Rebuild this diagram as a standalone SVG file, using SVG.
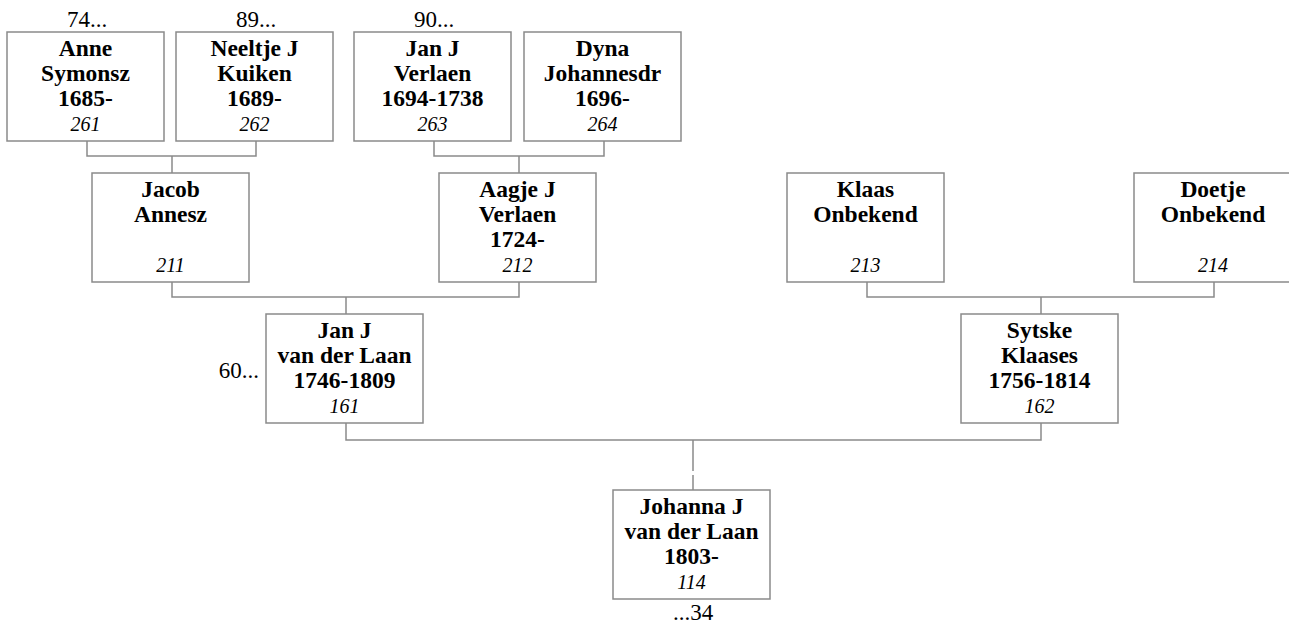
<svg xmlns="http://www.w3.org/2000/svg" width="1289" height="628" viewBox="0 0 1289 628">
<style>
.box{fill:#fff;stroke:#8a8a8a;stroke-width:1.5}
.ln{fill:none;stroke:#8a8a8a;stroke-width:1.5}
.nm{font-family:"Liberation Serif","Times New Roman",serif;font-weight:bold;font-size:23.5px;fill:#000;text-anchor:middle}
.id{font-family:"Liberation Serif","Times New Roman",serif;font-style:italic;font-size:20px;fill:#000;text-anchor:middle}
.rf{font-family:"Liberation Serif","Times New Roman",serif;font-size:23px;fill:#000}
</style>
<rect width="1289" height="628" fill="#fff"/>
<g id="connectors">
<path class="ln" d="M87,141V156H256V141M172,156V173"/>
<path class="ln" d="M434,141V156H604V141M519,156V173"/>
<path class="ln" d="M172,282V297H519V282M346,297V314"/>
<path class="ln" d="M867,282V297H1214V282M1041,297V314"/>
<path class="ln" d="M346,423V440H1041V423M693,440V471M693,475V490"/>
</g>
<g id="n261">
<rect class="box" x="7" y="32" width="157" height="109"/>
<text class="nm" x="85.5" y="56">Anne</text>
<text class="nm" x="85.5" y="81">Symonsz</text>
<text class="nm" x="85.5" y="106">1685-</text>
<text class="id" x="85.5" y="131">261</text>
<text class="rf" x="87" y="27" text-anchor="middle">74...</text>
</g>
<g id="n262">
<rect class="box" x="176" y="32" width="157" height="109"/>
<text class="nm" x="254.5" y="56">Neeltje J</text>
<text class="nm" x="254.5" y="81">Kuiken</text>
<text class="nm" x="254.5" y="106">1689-</text>
<text class="id" x="254.5" y="131">262</text>
<text class="rf" x="256" y="27" text-anchor="middle">89...</text>
</g>
<g id="n263">
<rect class="box" x="354" y="32" width="157" height="109"/>
<text class="nm" x="432.5" y="56">Jan J</text>
<text class="nm" x="432.5" y="81">Verlaen</text>
<text class="nm" x="432.5" y="106">1694-1738</text>
<text class="id" x="432.5" y="131">263</text>
<text class="rf" x="434" y="27" text-anchor="middle">90...</text>
</g>
<g id="n264">
<rect class="box" x="524" y="32" width="157" height="109"/>
<text class="nm" x="602.5" y="56">Dyna</text>
<text class="nm" x="602.5" y="81">Johannesdr</text>
<text class="nm" x="602.5" y="106">1696-</text>
<text class="id" x="602.5" y="131">264</text>
</g>
<g id="n211">
<rect class="box" x="92" y="173" width="157" height="109"/>
<text class="nm" x="170.5" y="197">Jacob</text>
<text class="nm" x="170.5" y="222">Annesz</text>
<text class="id" x="170.5" y="272">211</text>
</g>
<g id="n212">
<rect class="box" x="439" y="173" width="157" height="109"/>
<text class="nm" x="517.5" y="197">Aagje J</text>
<text class="nm" x="517.5" y="222">Verlaen</text>
<text class="nm" x="517.5" y="247">1724-</text>
<text class="id" x="517.5" y="272">212</text>
</g>
<g id="n213">
<rect class="box" x="787" y="173" width="157" height="109"/>
<text class="nm" x="865.5" y="197">Klaas</text>
<text class="nm" x="865.5" y="222">Onbekend</text>
<text class="id" x="865.5" y="272">213</text>
</g>
<g id="n214">
<rect class="box" x="1134" y="173" width="157" height="109"/>
<text class="nm" x="1213" y="197">Doetje</text>
<text class="nm" x="1213" y="222">Onbekend</text>
<text class="id" x="1213" y="272">214</text>
</g>
<g id="n161">
<rect class="box" x="266" y="314" width="157" height="109"/>
<text class="nm" x="344.5" y="338">Jan J</text>
<text class="nm" x="344.5" y="363">van der Laan</text>
<text class="nm" x="344.5" y="388">1746-1809</text>
<text class="id" x="344.5" y="413">161</text>
<text class="rf" x="259" y="378" text-anchor="end">60...</text>
</g>
<g id="n162">
<rect class="box" x="961" y="314" width="157" height="109"/>
<text class="nm" x="1039.5" y="338">Sytske</text>
<text class="nm" x="1039.5" y="363">Klaases</text>
<text class="nm" x="1039.5" y="388">1756-1814</text>
<text class="id" x="1039.5" y="413">162</text>
</g>
<g id="n114">
<rect class="box" x="613" y="490" width="157" height="109"/>
<text class="nm" x="691.5" y="514">Johanna J</text>
<text class="nm" x="691.5" y="539">van der Laan</text>
<text class="nm" x="691.5" y="564">1803-</text>
<text class="id" x="691.5" y="589">114</text>
<text class="rf" x="693" y="620" text-anchor="middle">...34</text>
</g>
</svg>
